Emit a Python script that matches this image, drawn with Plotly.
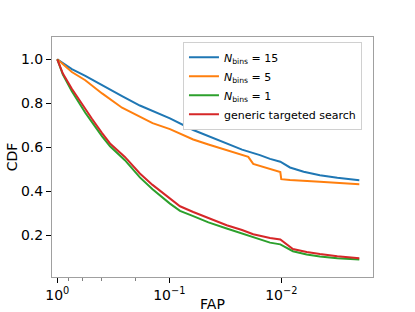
import plotly.graph_objects as go

# FAP values (x) and CDF values (y)
fap_15 = [1.0, 0.891, 0.741, 0.562, 0.398, 0.264, 0.183, 0.141, 0.0986, 0.0611, 0.0447, 0.0307, 0.0224, 0.0155, 0.0126, 0.0102, 0.00836, 0.00631, 0.00452, 0.00316, 0.00201]
cdf_15 = [1.0, 0.982, 0.955, 0.925, 0.882, 0.833, 0.79, 0.765, 0.732, 0.679, 0.652, 0.618, 0.590, 0.565, 0.548, 0.535, 0.509, 0.490, 0.474, 0.462, 0.451]

fap_5 = [1.0, 0.891, 0.741, 0.562, 0.398, 0.264, 0.183, 0.141, 0.0986, 0.0611, 0.0447, 0.0307, 0.0224, 0.0197, 0.0178, 0.0126, 0.0102, 0.0100, 0.00836, 0.00452, 0.00316, 0.00201]
cdf_5 = [1.0, 0.977, 0.942, 0.905, 0.845, 0.78, 0.738, 0.71, 0.683, 0.636, 0.613, 0.588, 0.566, 0.557, 0.525, 0.50, 0.488, 0.456, 0.452, 0.444, 0.44, 0.433]

fap_1 = [1.0, 0.891, 0.741, 0.562, 0.490, 0.398, 0.338, 0.249, 0.183, 0.141, 0.0986, 0.0802, 0.0611, 0.0447, 0.0307, 0.0224, 0.0178, 0.0126, 0.0102, 0.00787, 0.00593, 0.00452, 0.00316, 0.00201]
cdf_1 = [1.0, 0.93, 0.855, 0.757, 0.715, 0.65, 0.605, 0.542, 0.464, 0.41, 0.345, 0.312, 0.288, 0.26, 0.232, 0.21, 0.191, 0.168, 0.160, 0.129, 0.114, 0.105, 0.097, 0.091]

fap_gen = [1.0, 0.891, 0.741, 0.562, 0.490, 0.398, 0.338, 0.249, 0.183, 0.141, 0.0986, 0.0802, 0.0611, 0.0447, 0.0307, 0.0224, 0.0178, 0.0126, 0.0102, 0.00787, 0.00593, 0.00452, 0.00316, 0.00201]
cdf_gen = [1.0, 0.935, 0.866, 0.772, 0.73, 0.665, 0.618, 0.557, 0.482, 0.43, 0.368, 0.333, 0.307, 0.28, 0.247, 0.225, 0.206, 0.189, 0.182, 0.139, 0.125, 0.116, 0.106, 0.097]

names = ["<i>N</i><sub>bins</sub> = 15", "<i>N</i><sub>bins</sub> = 5", "<i>N</i><sub>bins</sub> = 1", "generic targeted search"]
colors = ["#1f77b4", "#ff7f0e", "#2ca02c", "#d62728"]
series = [(fap_15, cdf_15), (fap_5, cdf_5), (fap_1, cdf_1), (fap_gen, cdf_gen)]

x_tickvals = [1, 0.1, 0.01]
x_ticktext = ["10<sup>0</sup>", "10<sup>−1</sup>", "10<sup>−2</sup>"]
y_tickvals = [0.2, 0.4, 0.6, 0.8, 1.0]

fig = go.Figure()
for (x, y), n, c in zip(series, names, colors):
    fig.add_trace(go.Scatter(x=x, y=y, mode="lines", name=n,
                             line=dict(color=c, width=2)))

font = dict(family="DejaVu Sans", size=14, color="black")
fig.update_layout(
    width=415, height=312,
    margin=dict(l=52, r=42, t=37, b=35),
    paper_bgcolor="white", plot_bgcolor="white",
    font=font,
    legend=dict(x=0.408, y=0.98, xanchor="left", yanchor="top",
                bgcolor="white", bordercolor="#d0d0d0", borderwidth=1,
                font=dict(family="DejaVu Sans", size=11, color="black"),
                itemwidth=30, tracegroupgap=0),
    xaxis=dict(type="log", range=[0.047, -2.819], tickvals=x_tickvals, ticktext=x_ticktext,
               automargin=False,
               showgrid=False, zeroline=False, showline=True, linecolor="#a0a0a0", linewidth=1,
               mirror=True, ticks="outside", ticklen=5, tickcolor="black",
               minor=dict(ticks="outside", ticklen=3, tickcolor="#808080", showgrid=False),
               title=dict(text="FAP", font=font, standoff=2)),
    yaxis=dict(range=[0.012, 1.101], tickvals=y_tickvals, tickformat=".1f",
               automargin=False,
               showgrid=False, zeroline=False, showline=True, linecolor="#a0a0a0", linewidth=1,
               mirror=True, ticks="outside", ticklen=5, tickcolor="black",
               title=dict(text="CDF", font=font, standoff=0)),
)

fig.write_html("out.html", config={"displayModeBar": False},
               post_script="document.body.style.margin='0';document.body.style.overflow='hidden';")
